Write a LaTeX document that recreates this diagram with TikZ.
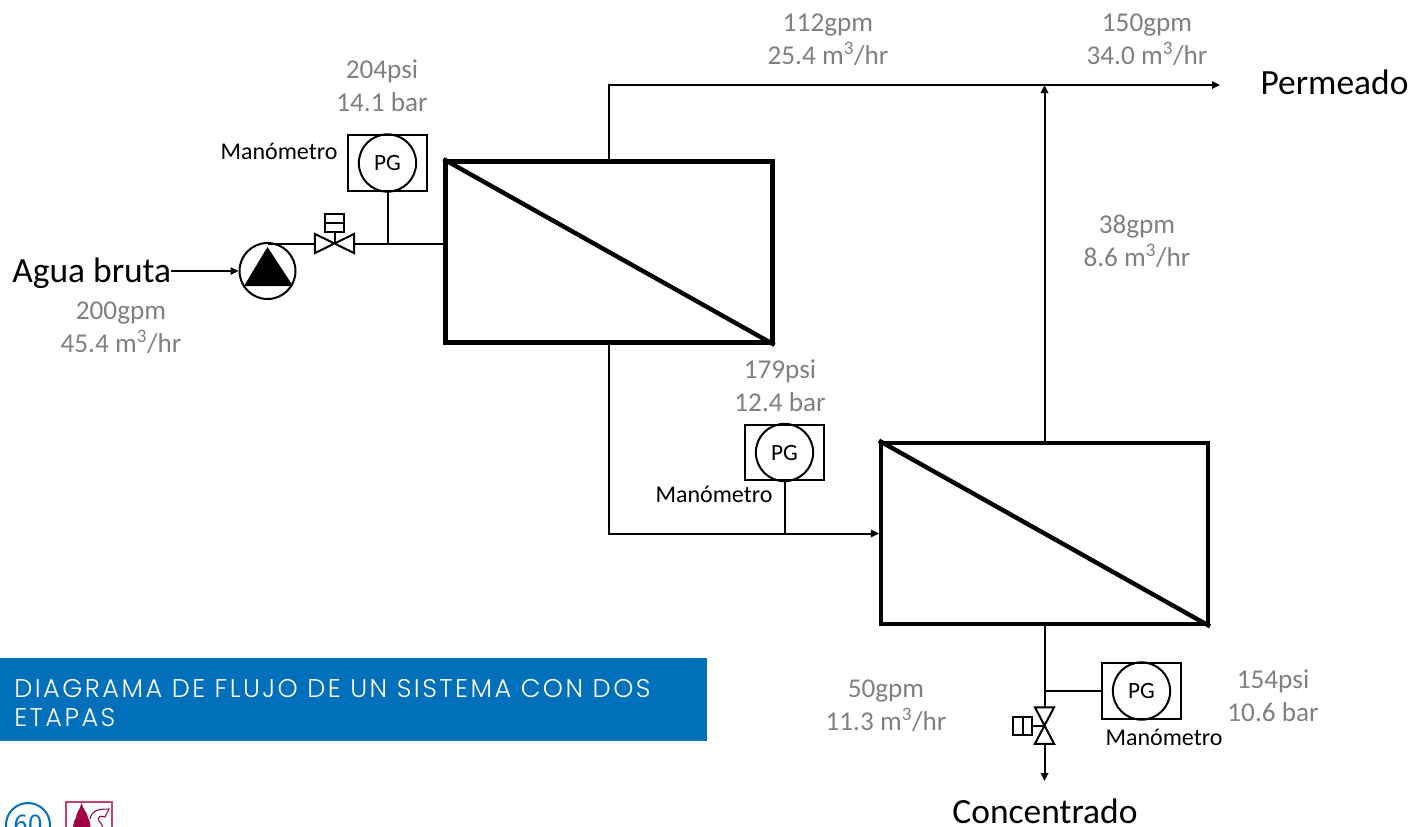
\documentclass[tikz,border=0pt]{standalone}
\usepackage{fontspec}
\setmainfont{Carlito}
\newfontfamily\bannerfont[LetterSpace=9.7,UprightFont=* Light]{Poppins}
\usetikzlibrary{positioning,arrows.meta,calc}
\definecolor{ink}{RGB}{0,0,0}
\definecolor{flowgray}{RGB}{128,128,128}
\definecolor{bannerblue}{RGB}{0,112,187}
\definecolor{logored}{RGB}{160,0,70}
\definecolor{logoframe}{RGB}{190,70,110}
\tikzset{
  module/.style={draw=ink, rectangle, minimum width=245pt, minimum height=136pt,
    inner sep=0pt, line width=3.3pt},
  gaugebox/.style={draw=ink, rectangle, minimum width=59pt, minimum height=41.5pt,
    inner sep=0pt, line width=1.5pt},
  gauge/.style={draw=ink, circle, minimum size=43pt, inner sep=0pt, line width=1.5pt,
    font=\fontsize{17.5}{20}\selectfont},
  pumpnode/.style={draw=ink, circle, minimum size=42pt, inner sep=0pt, line width=1.5pt},
  hvalve/.style={rectangle, minimum width=29pt, minimum height=14pt, inner sep=0pt},
  vvalve/.style={rectangle, minimum width=14pt, minimum height=27pt, inner sep=0pt},
  actuator/.style={draw=ink, rectangle, inner sep=0pt, line width=1.5pt},
  flowlabel/.style={align=center, inner sep=0pt, text=flowgray,
    font=\fontsize{20.4}{24.6}\selectfont},
  tag/.style={inner sep=0pt, text=ink, font=\fontsize{18}{20}\selectfont},
  stream/.style={inner sep=0pt, text=ink, font=\fontsize{26.6}{30}\selectfont},
  pipe/.style={line width=1.5pt, draw=ink},
  flow/.style={-{Triangle[length=6pt,width=5.5pt]}, line width=1.5pt, draw=ink},
  banner/.style={fill=bannerblue, anchor=north west, minimum width=530.25pt,
    minimum height=62.25pt, inner sep=0pt},
  bannertext/.style={text=white, align=left, inner sep=0pt,
    font=\bannerfont\fontsize{19.2}{21.75}\selectfont},
}
\begin{document}
\begin{tikzpicture}[x=0.75pt,y=-0.75pt]
  \useasboundingbox (0,0) rectangle (1412,826);
  % membrane stages
  \node[module] (modA) at (609,252) {};
  \node[module] (modB) at (1044.5,533.5) {};
  \draw[line width=3.3pt] (modA.north west) -- (modA.south east);
  \draw[line width=3.3pt] (modB.north west) -- (modB.south east);
  % pump and inlet
  \node[pumpnode] (pump) at (267.5,271) {};
  \fill[ink] (267.5,247) -- (293,286) -- (244,286) -- cycle;
  \node[stream, anchor=base west] (agua) at (12,282.5) {Agua bruta};
  \draw[flow] (agua.east |- pump.west) -- (pump.west);
  % inlet valve
  \node[hvalve] (valA) at (334.5,243.5) {};
  \draw[pipe] (valA.north west) -- (valA.south east) -- (valA.north east)
    -- (valA.south west) -- cycle;
  \node[actuator, minimum width=14pt, minimum height=13.5pt] (actA) at (334.5,223) {};
  \draw[pipe] (actA.west) -- (actA.east);
  \draw[pipe] (actA.south) -- (valA.center);
  \draw[pipe] (valA.west -| pump.north) -- (valA.west);
  \draw[pipe] (valA.east) -- (valA.east -| modA.west);
  % gauges
  \node[gaugebox] (boxA) at (387.5,163) {};
  \node[gauge] (pgA) at (boxA.center) {PG};
  \node[gaugebox] (boxB) at (784.5,452.5) {};
  \node[gauge] (pgB) at (boxB.center) {PG};
  \node[gaugebox] (boxC) at (1141.5,691) {};
  \node[gauge] (pgC) at (boxC.center) {PG};
  \draw[pipe] (boxA.south) -- (boxA.south |- valA.east);
  % permeate side
  \node[stream] (perm) at (1334.5,82) {Permeado};
  \coordinate (permEnd) at (1220,85);
  \draw[flow] (modA.north) -- (modA.north |- permEnd) -- (permEnd);
  \draw[flow] (modB.north) -- (modB.north |- permEnd);
  % stage link
  \draw[flow] (modA.south) -- (modA.south |- modB.west) -- (modB.west);
  \draw[pipe] (boxB.south) -- (boxB.south |- modB.west);
  % concentrate side
  \node[stream] (conc) at (1045,811) {Concentrado};
  \node[vvalve] (valB) at (1044.5,725.5) {};
  \draw[pipe] (valB.north west) -- (valB.north east) -- (valB.south west)
    -- (valB.south east) -- cycle;
  \node[actuator, minimum width=14pt, minimum height=13.5pt] (actB) at (1022.5,725.5) {};
  \draw[pipe] (actB.north) -- (actB.south);
  \draw[pipe] (actB.east) -- (valB.center);
  \coordinate (concEnd) at (1044.5,781);
  \draw[pipe] (modB.south) -- (valB.north);
  \draw[flow] (valB.south) -- (concEnd);
  \draw[pipe] (boxC.west) -- (boxC.west -| modB.south);
  % readings
  \node[flowlabel] (fAlim) at (121,328) {200gpm\\45.4 m\textsuperscript{3}/hr};
  \node[flowlabel] (pA) at (382,86) {204psi\\14.1 bar};
  \node[flowlabel] (fPermA) at (828,39.5) {112gpm\\25.4 m\textsuperscript{3}/hr};
  \node[flowlabel] (fPerm) at (1147,39.5) {150gpm\\34.0 m\textsuperscript{3}/hr};
  \node[flowlabel] (fPermB) at (1137,241) {38gpm\\8.6 m\textsuperscript{3}/hr};
  \node[flowlabel] (pB) at (780,386) {179psi\\12.4 bar};
  \node[flowlabel] (fConc) at (886,706) {50gpm\\11.3 m\textsuperscript{3}/hr};
  \node[flowlabel] (pC) at (1273,696) {154psi\\10.6 bar};
  \node[tag] (tagA) at (279,151) {Manómetro};
  \node[tag] (tagB) at (714,494) {Manómetro};
  \node[tag] (tagC) at (1164,737) {Manómetro};
  % banner
  \node[banner] (bar) at (0,658) {};
  \node[bannertext, right=10.5pt of bar.west, yshift=-2.25pt] (title)
    {DIAGRAMA DE FLUJO DE UN SISTEMA CON DOS\\ETAPAS};
  % page number and logo, cut by the page edge
  \begin{scope}
    \clip (0,0) rectangle (1412,826);
    \node[draw=bannerblue, circle, line width=1.5pt, minimum size=33pt, inner sep=0pt,
      text=bannerblue, font=\sffamily\fontsize{23}{26}\selectfont] (page) at (28,825) {60};
    \draw[logoframe, line width=0.8pt] (66,802) rectangle (112,840);
    \fill[logored] (81.5,803) .. controls (83,810) and (88,813) .. (88,818)
      .. controls (90,820) and (90,824) .. (91,830) -- (72,830)
      .. controls (74,824) and (74,820) .. (76,818)
      .. controls (76,813) and (80,810) .. (81.5,803) -- cycle;
    \draw[logored, line width=0.8pt] (90,819) .. controls (92,811) and (96,809) .. (109,809)
      -- (105,817) .. controls (100,815) and (97,817) .. (99,821)
      .. controls (101,823) and (103,825) .. (103,830);
  \end{scope}
\end{tikzpicture}
\end{document}
